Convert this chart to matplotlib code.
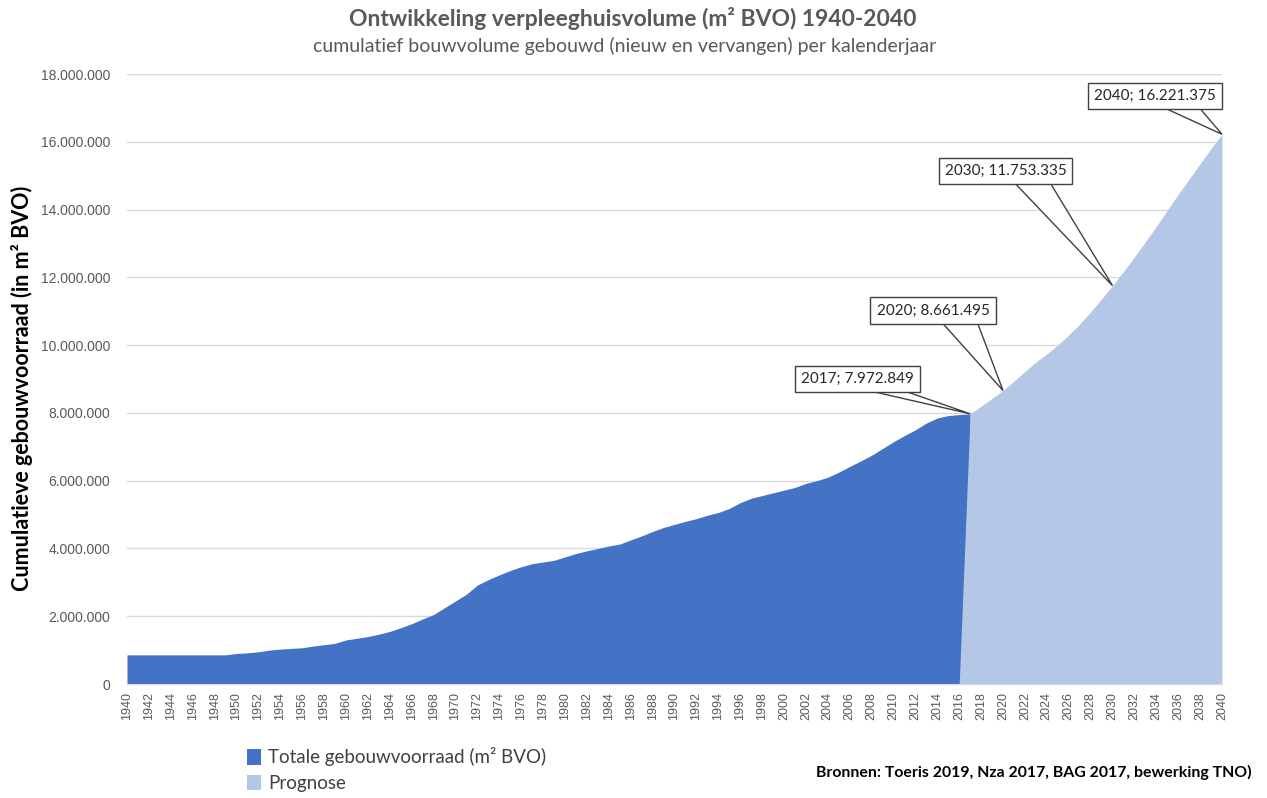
import matplotlib
matplotlib.use("Agg")
from matplotlib import pyplot as plt
from matplotlib.patches import Polygon
from matplotlib.ticker import FuncFormatter, MultipleLocator

# gerealiseerde voorraad (m2 BVO), 1940-2017
jaren = list(range(1940, 2018))
totaal = [860000] * 10 + [
    900000, 920000, 950000, 1000000, 1030000, 1050000, 1070000, 1120000, 1160000, 1200000,
    1300000, 1350000, 1400000, 1470000, 1550000, 1660000, 1780000, 1920000, 2050000, 2250000,
    2450000, 2650000, 2920000, 3080000, 3220000, 3350000, 3460000, 3550000, 3600000, 3650000,
    3750000, 3850000, 3930000, 4000000, 4070000, 4130000, 4250000, 4370000, 4500000, 4620000,
    4710000, 4800000, 4880000, 4980000, 5060000, 5180000, 5350000, 5480000, 5560000, 5640000,
    5720000, 5800000, 5920000, 6000000, 6100000, 6250000, 6420000, 6580000, 6750000, 6950000,
    7150000, 7330000, 7500000, 7700000, 7850000, 7920000, 7950000, 7972849]

# prognose 2016-2040
jaren_prog = list(range(2016, 2041))
prognose = [0, 7972849, 8200000, 8430000, 8661495, 8940000, 9220000, 9500000, 9740000,
            10000000, 10300000, 10620000, 10980000, 11360000, 11753335, 12170000, 12600000,
            13050000, 13500000, 13980000, 14450000, 14900000, 15350000, 15800000, 16221375]

# labels bij de punten: (jaar, waarde)
labels = [(2017, 7972849), (2020, 8661495), (2030, 11753335), (2040, 16221375)]
label_offsets = [(-113, 35), (-70, 80), (-107, 115), (-67, 38)]  # pixels

donker = "#4472C4"
licht = "#B4C7E7"
grijs = "#595959"

fig = plt.figure(figsize=(12.67, 7.98), dpi=100)
ax = fig.add_axes([127/1267, 1-684/798, (1222-127)/1267, (684-74)/798])

ax.fill_between(jaren, totaal, color=donker, lw=0, label="Totale gebouwvoorraad (m² BVO)", zorder=2)
ax.fill_between(jaren_prog, prognose, color=licht, lw=0, label="Prognose", zorder=3)

ax.set_xlim(1940, 2040)
ax.set_ylim(0, 18000000)
ax.yaxis.set_major_locator(MultipleLocator(2000000))
ax.yaxis.set_major_formatter(FuncFormatter(lambda v, p: f"{int(v):,}".replace(",", ".")))
ax.set_xticks(list(range(1940, 2041, 2)))
ax.tick_params(axis="x", labelrotation=90, length=0, labelsize=9, labelcolor=grijs, pad=6)
ax.tick_params(axis="y", length=0, labelsize=10, labelcolor=grijs, pad=12)
for t in ax.get_xticklabels() + ax.get_yticklabels():
    t.set_family("Liberation Sans")

ax.grid(axis="y", color="#d9d9d9", lw=1)
ax.set_axisbelow(True)
for s in ["top", "right", "left"]:
    ax.spines[s].set_visible(False)
ax.spines["bottom"].set_color("#d9d9d9")
ax.spines["bottom"].set_zorder(5)

# callouts zoals in Excel: tekstvak met een wig naar het punt
to_data = ax.transData.inverted()
for (j, v), (dx, dy) in zip(labels, label_offsets):
    px, py = ax.transData.transform((j, v))
    cx, cy = px + dx, py + dy
    onder = cy - 11
    wig = [to_data.transform((cx + 8, onder)), to_data.transform((cx + 44, onder)), (j, v)]
    ax.add_patch(Polygon(wig, closed=True, fc="white", ec="#404040", lw=1,
                         zorder=6, clip_on=False))
    tekst = f"{j}; " + f"{v:,}".replace(",", ".")
    ax.annotate(tekst, xy=(j, v), xytext=(dx * 0.72, dy * 0.72), textcoords="offset points",
                ha="center", va="center", fontsize=11, family="Lato", color="#262626",
                bbox=dict(boxstyle="square,pad=0.4", fc="white", ec="#404040", lw=1),
                zorder=7)

fig.text(633/1267, 1-18/798, "Ontwikkeling verpleeghuisvolume (m² BVO) 1940-2040",
         ha="center", va="center", fontsize=16.5, fontweight="bold", color=grijs, family="Lato")
fig.text(625/1267, 1-46/798, "cumulatief bouwvolume gebouwd (nieuw en vervangen) per kalenderjaar",
         ha="center", va="center", fontsize=14, color=grijs, family="Lato")
fig.text(22/1267, 1-388/798, "Cumulatieve gebouwvoorraad (in m² BVO)", rotation=90,
         ha="center", va="center", fontsize=15.5, fontweight="bold", color="black", family="Lato")
fig.text(1252/1267, 1-772/798, "Bronnen: Toeris 2019, Nza 2017, BAG 2017, bewerking TNO)",
         ha="right", va="center", fontsize=11.4, fontweight="bold", color="black", family="Lato")

fig.legend(loc="upper left", bbox_to_anchor=(238/1267, 1-738/798), frameon=False,
           handlelength=0.7, handleheight=0.9, handletextpad=0.4, labelspacing=0.45,
           borderpad=0, prop={"family": "Lato", "size": 13.5}, labelcolor="#404040")

fig.savefig("out.png", dpi=100)
